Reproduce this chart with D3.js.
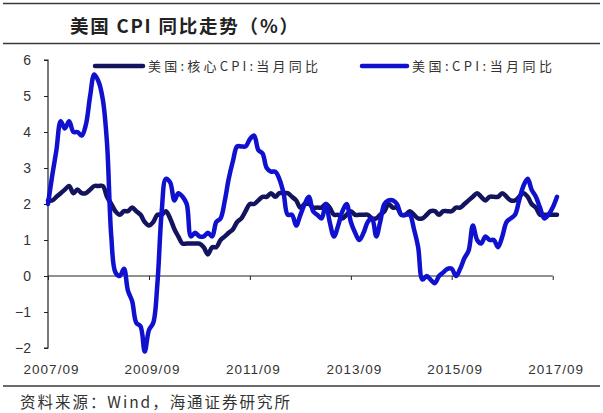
<!DOCTYPE html>
<html>
<head>
<meta charset="utf-8">
<script src="https://cdn.jsdelivr.net/npm/d3@7"></script>
<style>
  html, body { margin: 0; padding: 0; background: #fff; }
  svg { display: block; }
</style>
</head>
<body>
<svg id="chart" width="603" height="413"></svg>
<script>
// ---- data (monthly, 2007/08 .. 2017/09) ----
const startMonth = "2007-08";
const cpiYoY = [
  2.0, 2.8, 3.5, 4.3, 4.1,
  4.3, 4.0, 4.0, 3.9, 4.2, 5.0, 5.6, 5.4, 4.9, 3.7, 1.1, 0.1,
  0.0, 0.2, -0.4, -0.7, -1.3, -1.4, -2.1, -1.5, -1.3, -0.2, 1.8, 2.7,
  2.6, 2.1, 2.3, 2.2, 2.0, 1.1, 1.2, 1.1, 1.1, 1.2, 1.1, 1.5,
  1.6, 2.1, 2.7, 3.2, 3.6, 3.6, 3.6, 3.8, 3.9, 3.5, 3.4, 3.0,
  2.9, 2.9, 2.7, 2.3, 1.7, 1.7, 1.4, 1.7, 2.0, 2.2, 1.8, 1.7,
  1.6, 2.0, 1.5, 1.1, 1.4, 1.8, 2.0, 1.5, 1.2, 1.0, 1.2, 1.5,
  1.6, 1.1, 1.5, 2.0, 2.1, 2.1, 2.0, 1.7, 1.7, 1.7, 1.3, 0.8,
  -0.1, 0.0, -0.1, -0.2, 0.0, 0.1, 0.2, 0.2, 0.0, 0.2, 0.5, 0.7,
  1.4, 1.0, 0.9, 1.1, 1.0, 1.0, 0.8, 1.1, 1.5, 1.6, 1.7, 2.1,
  2.5, 2.7, 2.4, 2.2, 1.9, 1.6, 1.7, 1.9, 2.2
];
const coreYoY = [
  2.1, 2.1, 2.2, 2.3, 2.4,
  2.5, 2.3, 2.4, 2.3, 2.3, 2.4, 2.5, 2.5, 2.5, 2.2, 2.0, 1.8,
  1.7, 1.8, 1.8, 1.9, 1.8, 1.7, 1.5, 1.4, 1.5, 1.7, 1.7, 1.8,
  1.6, 1.3, 1.1, 0.9, 0.9, 0.9, 0.9, 0.9, 0.8, 0.6, 0.8, 0.8,
  1.0, 1.1, 1.2, 1.3, 1.5, 1.6, 1.8, 2.0, 2.0, 2.1, 2.2, 2.2,
  2.3, 2.2, 2.3, 2.3, 2.3, 2.2, 2.1, 1.9, 2.0, 2.0, 1.9, 1.9,
  1.9, 2.0, 1.9, 1.7, 1.7, 1.6, 1.7, 1.8, 1.7, 1.7, 1.7, 1.7,
  1.6, 1.6, 1.7, 1.8, 2.0, 1.9, 1.9, 1.7, 1.7, 1.8, 1.7, 1.6,
  1.6, 1.7, 1.8, 1.8, 1.7, 1.8, 1.8, 1.8, 1.9, 1.9, 2.0, 2.1,
  2.2, 2.3, 2.2, 2.1, 2.2, 2.2, 2.2, 2.3, 2.2, 2.1, 2.1, 2.2,
  2.3, 2.2, 2.0, 1.9, 1.7, 1.7, 1.7, 1.7, 1.7
];
const seriesNames = ["美国:核心CPI:当月同比", "美国:CPI:当月同比"];
const xTickLabels = ["2007/09", "2009/09", "2011/09", "2013/09", "2015/09", "2017/09"];
const yTicks = [-2, -1, 0, 1, 2, 3, 4, 5, 6];
const titleText = "美国 CPI 同比走势（%）";
const sourceText = "资料来源：Wind，海通证券研究所";

// ---- build dates ----
const parseM = d3.timeParse("%Y-%m");
const t0 = parseM(startMonth);
const dates = cpiYoY.map((_, i) => d3.timeMonth.offset(t0, i));
const tickDates = xTickLabels.map((_, i) => d3.timeMonth.offset(t0, i * 24));

const svg = d3.select("#chart");

const x = d3.scaleTime().domain([dates[0], dates[dates.length - 1]]).range([48, 557]);
const y = d3.scaleLinear().domain([-2, 6]).range([348, 60]);

const ruleColor = "#3a3a3a";
// rules
svg.append("line").attr("x1", 3).attr("x2", 600).attr("y1", 3.5).attr("y2", 3.5)
  .attr("stroke", ruleColor).attr("stroke-width", 1.6);
svg.append("line").attr("x1", 3).attr("x2", 600).attr("y1", 43.5).attr("y2", 43.5)
  .attr("stroke", ruleColor).attr("stroke-width", 1.6);
svg.append("line").attr("x1", 3).attr("x2", 600).attr("y1", 386).attr("y2", 386)
  .attr("stroke", ruleColor).attr("stroke-width", 1.6);

// title
svg.append("text").attr("x", 70).attr("y", 33)
  .attr("font-family", "'Noto Sans CJK SC', sans-serif")
  .attr("font-weight", "bold").attr("font-size", 18.5).attr("fill", "#222")
  .attr("textLength", 228).attr("lengthAdjust", "spacing")
  .text(titleText);

// source
svg.append("text").attr("x", 20).attr("y", 408)
  .attr("font-family", "'Noto Sans CJK SC', sans-serif")
  .attr("font-size", 15.5).attr("fill", "#333")
  .attr("textLength", 270).attr("lengthAdjust", "spacing")
  .text(sourceText);

// y axis
const yAxis = d3.axisLeft(y).tickValues(yTicks).tickSize(4).tickPadding(13)
  .tickFormat(d3.format("d"));
const gy = svg.append("g").attr("transform", "translate(48,0)").call(yAxis);
gy.select(".domain").attr("stroke", "#222").attr("stroke-width", 1.2)
  .attr("d", `M-4,${y(6)}H0V${y(-2)}H-4`);
gy.selectAll(".tick line").attr("stroke", "#222");
gy.selectAll(".tick text").attr("font-family", "'Liberation Sans', Arial, sans-serif")
  .attr("font-size", 14).attr("fill", "#333");

// x axis on zero line
const xAxis = d3.axisBottom(x).tickValues(tickDates).tickSize(4)
  .tickFormat(() => "");
const gx = svg.append("g").attr("transform", `translate(0,${y(0)})`).call(xAxis);
gx.select(".domain").attr("stroke", "#222").attr("stroke-width", 1.2)
  .attr("d", `M${x.range()[0]},0H${x(tickDates[tickDates.length-1])}`);
gx.selectAll(".tick line").attr("stroke", "#222");

// x labels at bottom
const gxl = svg.append("g").attr("transform", "translate(0,348)")
  .call(d3.axisBottom(x).tickValues(tickDates).tickSize(0).tickPadding(16)
    .tickFormat((d, i) => xTickLabels[i]));
gxl.select(".domain").remove();
gxl.selectAll(".tick text").attr("font-family", "'Liberation Sans', Arial, sans-serif")
  .attr("font-size", 13.5).attr("fill", "#333").attr("letter-spacing", "1px")
  .attr("dx", "3");

// lines
const line = d3.line().x((d, i) => x(dates[i])).y(d => y(d)).curve(d3.curveCatmullRom.alpha(0.5));
const coreColor = "#14145e";
const cpiColor = "#1010cf";
svg.append("path").datum(coreYoY).attr("d", line).attr("fill", "none")
  .attr("stroke", coreColor).attr("stroke-width", 4.5).attr("stroke-linejoin", "round")
  .attr("stroke-linecap", "round");
svg.append("path").datum(cpiYoY).attr("d", line).attr("fill", "none")
  .attr("stroke", cpiColor).attr("stroke-width", 4.5).attr("stroke-linejoin", "round")
  .attr("stroke-linecap", "round");

// legend
const legend = [
  { name: seriesNames[0], color: coreColor, x1: 95, x2: 143, tx: 148, tw: 170 },
  { name: seriesNames[1], color: cpiColor, x1: 362, x2: 407, tx: 412, tw: 140 }
];
legend.forEach(l => {
  svg.append("line").attr("x1", l.x1).attr("x2", l.x2).attr("y1", 66).attr("y2", 66)
    .attr("stroke", l.color).attr("stroke-width", 4.5).attr("stroke-linecap", "round");
  svg.append("text").attr("x", l.tx).attr("y", 71)
    .attr("font-family", "'Noto Sans CJK SC', sans-serif")
    .attr("font-size", 13).attr("fill", "#333")
    .attr("textLength", l.tw).attr("lengthAdjust", "spacing")
    .text(l.name);
});
</script>
</body>
</html>
